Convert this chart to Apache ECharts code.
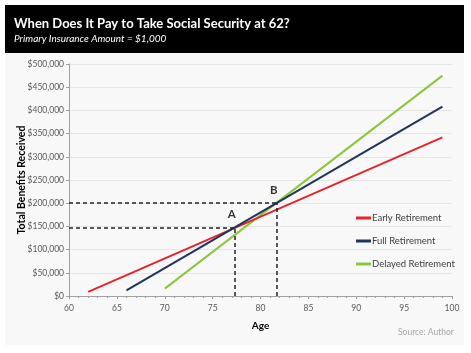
<!DOCTYPE html>
<html>
<head>
<meta charset="utf-8">
<script src="https://cdn.jsdelivr.net/npm/echarts@6/dist/echarts.min.js"></script>
<style>
  html, body { margin: 0; padding: 0; background: #fff; }
  #chart { width: 471px; height: 353px; }
</style>
</head>
<body>
<div id="chart"></div>
<script>
// values: [age, total benefits]
var earlyAges = [62, 99];
var earlyVals = [9000, 342000];
var fullAges = [66, 99];
var fullVals = [12000, 408000];
var delayedAges = [70, 99];
var delayedVals = [15840, 475000];
// break-even points
var pointNames = ['A', 'B'];
var pointAges = [77.3, 81.7];
var pointVals = [147000, 200000];

function pairs(xs, ys) {
  return xs.map(function (x, i) { return [x, ys[i]]; });
}

var dashStyle = { color: '#222', width: 1.5, type: [4, 3] };
var guides = [];
pointAges.forEach(function (a, i) {
  guides.push([{ coord: [60, pointVals[i]] }, { coord: [a, pointVals[i]] }]);
  guides.push([{ coord: [a, 0] }, { coord: [a, pointVals[i]] }]);
});

var myChart = echarts.init(document.getElementById('chart'));
var option = {
  animation: false,
  textStyle: { fontFamily: 'Lato' },
  graphic: [
    { type: 'rect', z: -10, shape: { x: 5, y: 5, width: 459, height: 340 }, style: { fill: '#f8f8f8' } },
    { type: 'rect', z: -9, shape: { x: 5, y: 5, width: 459, height: 48 }, style: { fill: '#000' } },
    { type: 'text', left: 398, top: 328, style: { text: 'Source: Author', fill: '#a6a6a6', font: '8.5px Lato' } }
  ],
  title: {
    text: 'When Does It Pay to Take Social Security at 62?',
    subtext: 'Primary Insurance Amount = $1,000',
    left: 9, top: 12, itemGap: 4,
    textStyle: { color: '#fff', fontSize: 13, fontWeight: 'bold', fontFamily: 'Lato' },
    subtextStyle: { color: '#fff', fontSize: 10, fontStyle: 'italic', fontFamily: 'Lato' }
  },
  legend: {
    orient: 'vertical',
    left: 351, top: 208,
    itemGap: 13,
    itemWidth: 15, itemHeight: 3,
    icon: 'rect',
    textStyle: { color: '#404040', fontSize: 9.5, padding: [0, 0, 0, -4] },
    data: ['Early Retirement', 'Full Retirement', 'Delayed Retirement']
  },
  grid: { left: 69, right: 19, top: 64, bottom: 57, outerBoundsMode: 'none' },
  xAxis: {
    type: 'value', min: 60, max: 100, interval: 5,
    name: 'Age', nameLocation: 'middle', nameGap: 25,
    nameTextStyle: { color: '#000', fontWeight: 'bold', fontSize: 10 },
    axisLine: { lineStyle: { color: '#a0a0a0' } },
    axisTick: { length: 3, lineStyle: { color: '#a0a0a0' } },
    minorTick: { show: true, splitNumber: 5, length: 2, lineStyle: { color: '#a0a0a0' } },
    axisLabel: { color: '#595959', fontSize: 8.5, margin: 8 },
    splitLine: { show: false }
  },
  yAxis: {
    type: 'value', min: 0, max: 500000, interval: 50000,
    name: 'Total Benefits Received', nameLocation: 'middle', nameGap: 42,
    nameMoveOverlap: false,
    nameTextStyle: { color: '#000', fontWeight: 'bold', fontSize: 10.5 },
    axisLine: { show: true, lineStyle: { color: '#a0a0a0' } },
    axisTick: { show: true, length: 3, lineStyle: { color: '#a0a0a0' } },
    axisLabel: {
      color: '#595959', fontSize: 8.5, margin: 5,
      formatter: function (v) { return '$' + v.toLocaleString('en-US'); }
    },
    splitLine: { lineStyle: { color: '#e6e6e6' } }
  },
  series: [
    {
      name: 'Early Retirement', type: 'line', data: pairs(earlyAges, earlyVals),
      symbol: 'none', color: '#e8242b', lineStyle: { width: 2 }, z: 3,
      markLine: { silent: true, symbol: 'none', lineStyle: dashStyle, label: { show: false }, data: guides }
    },
    {
      name: 'Full Retirement', type: 'line', data: pairs(fullAges, fullVals),
      symbol: 'none', color: '#1f3559', lineStyle: { width: 2 }, z: 4
    },
    {
      name: 'Delayed Retirement', type: 'line', data: pairs(delayedAges, delayedVals),
      symbol: 'none', color: '#8cc63f', lineStyle: { width: 2 }, z: 2
    },
    {
      type: 'scatter', symbolSize: 0, z: 5,
      data: pointAges.map(function (a, i) { return { value: [a, pointVals[i]], name: pointNames[i] }; }),
      label: {
        show: true, position: 'top', offset: [-3, -2],
        formatter: '{b}', color: '#000', fontWeight: 'bold', fontSize: 11.5
      }
    }
  ]
};
myChart.setOption(option);
</script>
</body>
</html>
